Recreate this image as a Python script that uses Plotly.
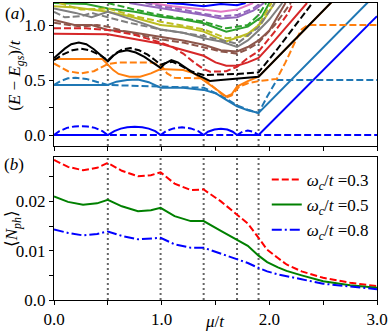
import plotly.graph_objects as go

# ---------------- data ----------------
transitions = [0.5, 0.99, 1.39, 1.70, 1.90]

# panel (a): excitation spectrum (mu/t, (E-Egs)/t); solid & dashed families
blue_s_mu = [0, 0.5, 0.56, 0.62, 0.68, 0.75, 0.82, 0.88, 0.94, 0.99, 1.39, 1.43, 1.49, 1.55, 1.61, 1.66, 1.70, 1.90, 3.0]
blue_s_E = [0, 0, 0.035, 0.058, 0.071, 0.075, 0.071, 0.058, 0.035, 0, 0, 0.03, 0.05, 0.057, 0.05, 0.03, 0, 0, 1.08]
blue_d_mu = [0, 0.05, 0.12, 0.19, 0.25, 0.31, 0.38, 0.45, 0.5, 0.99, 1.04, 1.11, 1.19, 1.27, 1.34, 1.39, 1.70, 1.75, 1.80, 1.85, 1.90, 3.0]
blue_d_E = [0, 0.035, 0.065, 0.078, 0.08, 0.078, 0.065, 0.035, 0, 0, 0.035, 0.06, 0.07, 0.06, 0.035, 0, 0, 0.03, 0.04, 0.03, 0, 0]

tblue_s_mu = [0, 0.3, 0.5, 0.58, 0.68, 0.78, 0.88, 0.99, 1.2, 1.39, 1.5, 1.6, 1.7, 1.8, 1.9, 3.0]
tblue_s_E = [0.455, 0.455, 0.455, 0.485, 0.50, 0.505, 0.48, 0.43, 0.43, 0.41, 0.38, 0.32, 0.26, 0.225, 0.20, 1.29]
tblue_d_mu = [0, 0.06, 0.13, 0.2, 0.3, 0.4, 0.5, 0.99, 1.39, 1.5, 1.6, 1.7, 1.8, 1.9, 1.98, 2.07, 3.0]
tblue_d_E = [0.455, 0.49, 0.515, 0.52, 0.51, 0.485, 0.455, 0.44, 0.43, 0.38, 0.33, 0.27, 0.23, 0.20, 0.35, 0.5, 0.5]

orange_s_mu = [0, 0.45, 0.5, 0.55, 0.6, 0.7, 0.8, 0.9, 0.99, 1.2, 1.3, 1.39, 1.5, 1.6, 1.65, 1.7, 1.8, 1.9, 2.6]
orange_s_E = [0.69, 0.69, 0.64, 0.59, 0.555, 0.53, 0.53, 0.56, 0.60, 0.59, 0.56, 0.50, 0.42, 0.35, 0.37, 0.44, 0.49, 0.53, 1.23]
orange_d_mu = [0, 0.06, 0.13, 0.25, 0.37, 0.44, 0.5, 0.6, 0.9, 0.99, 1.05, 1.12, 1.39, 1.5, 1.6, 1.65, 1.72, 1.8, 1.9, 2.07, 2.15, 2.25, 2.3, 2.36, 3.0]
orange_d_E = [0.65, 0.615, 0.58, 0.56, 0.58, 0.615, 0.645, 0.66, 0.66, 0.64, 0.56, 0.52, 0.515, 0.42, 0.34, 0.36, 0.44, 0.47, 0.49, 0.51, 0.66, 0.87, 0.96, 1.0, 1.0]

black_s_mu = [0, 0.05, 0.1, 0.16, 0.23, 0.3, 0.37, 0.44, 0.5, 0.55, 0.6, 0.68, 0.76, 0.84, 0.92, 0.99, 1.03, 1.09, 1.15, 1.22, 1.3, 1.39, 1.45, 1.55, 1.7, 1.9, 2.6]
black_s_E = [0.70, 0.745, 0.785, 0.825, 0.84, 0.825, 0.78, 0.72, 0.67, 0.72, 0.755, 0.77, 0.75, 0.71, 0.66, 0.61, 0.65, 0.68, 0.66, 0.61, 0.56, 0.52, 0.49, 0.50, 0.51, 0.53, 1.23]
black_d_mu = [0, 0.08, 0.17, 0.25, 0.33, 0.42, 0.5, 0.57, 0.64, 0.71, 0.79, 0.87, 0.94, 0.99, 1.04, 1.1, 1.17, 1.27, 1.39, 1.55, 1.7, 1.9, 2.05, 2.4]
black_d_E = [0.68, 0.73, 0.77, 0.785, 0.77, 0.73, 0.68, 0.74, 0.78, 0.79, 0.77, 0.73, 0.68, 0.64, 0.655, 0.665, 0.635, 0.58, 0.545, 0.55, 0.555, 0.57, 0.75, 1.2]

red_s_mu = [0, 0.5, 0.99, 1.2, 1.39, 1.5, 1.6, 1.7, 1.8, 1.9, 2.05, 2.35]
red_s_E = [0.92, 0.915, 0.83, 0.77, 0.72, 0.66, 0.63, 0.63, 0.66, 0.70, 0.86, 1.2]
red_d_mu = [0, 0.3, 0.5, 0.75, 0.99, 1.1, 1.2, 1.3, 1.39, 1.45, 1.6, 1.7, 1.8, 1.9, 2.05, 2.17, 2.22]
red_d_E = [0.97, 0.97, 0.955, 0.91, 0.84, 0.80, 0.74, 0.66, 0.60, 0.575, 0.58, 0.62, 0.70, 0.76, 0.94, 1.1, 1.2]

brown_s_mu = [0, 0.19, 0.35, 0.5, 0.68, 0.99, 1.2, 1.39, 1.55, 1.7, 1.8, 1.9, 2.0, 2.15]
brown_s_E = [1.045, 1.0, 1.0, 0.955, 0.94, 0.89, 0.86, 0.82, 0.77, 0.76, 0.80, 0.86, 0.95, 1.2]
brown_d_mu = [0, 0.15, 0.25, 0.4, 0.5, 0.7, 0.99, 1.2, 1.39, 1.55, 1.7, 1.8, 1.9, 2.05, 2.2]
brown_d_E = [1.02, 1.0, 0.985, 1.0, 0.985, 0.93, 0.87, 0.84, 0.80, 0.76, 0.74, 0.78, 0.84, 1.0, 1.2]

gray_s_mu = [0, 0.2, 0.35, 0.5, 0.6, 0.99, 1.2, 1.39, 1.55, 1.7, 1.8, 1.9, 2.0, 2.12]
gray_s_E = [1.15, 1.11, 1.07, 1.12, 1.09, 0.96, 0.93, 0.88, 0.85, 0.80, 0.86, 0.95, 1.05, 1.2]
gray_d_mu = [0, 0.1, 0.25, 0.35, 0.5, 0.7, 0.99, 1.39, 1.7, 1.9, 2.05]
gray_d_E = [1.12, 1.07, 1.08, 1.11, 1.07, 1.02, 0.96, 0.90, 0.83, 0.98, 1.2]

olive_s_mu = [0, 0.2, 0.5, 0.7, 0.99, 1.2, 1.39, 1.6, 1.8, 1.93, 2.05]
olive_s_E = [1.17, 1.16, 1.12, 1.08, 1.0, 0.98, 0.94, 0.85, 0.92, 1.02, 1.2]
olive_d_mu = [0.05, 0.25, 0.5, 0.75, 0.99, 1.2, 1.39, 1.6, 1.8, 1.9, 2.02]
olive_d_E = [1.2, 1.14, 1.15, 1.08, 1.03, 0.99, 0.96, 0.88, 0.90, 1.0, 1.2]

green_s_mu = [0, 0.3, 0.5, 0.75, 0.99, 1.2, 1.39, 1.6, 1.8, 1.93, 2.0]
green_s_E = [1.2, 1.19, 1.15, 1.12, 1.075, 1.05, 1.016, 0.94, 0.985, 1.075, 1.2]
green_d_mu = [0.5, 0.75, 0.99, 1.2, 1.39, 1.6, 1.8, 1.9, 1.97]
green_d_E = [1.2, 1.14, 1.09, 1.06, 1.03, 0.97, 1.0, 1.09, 1.2]

purple_s_mu = [0.7, 0.99, 1.2, 1.39, 1.55, 1.7, 1.85, 1.95]
purple_s_E = [1.2, 1.15, 1.12, 1.09, 1.06, 1.07, 1.13, 1.2]
purple_d_mu = [0.85, 0.99, 1.2, 1.39, 1.55, 1.7, 1.85, 1.92]
purple_d_E = [1.2, 1.17, 1.14, 1.10, 1.08, 1.09, 1.15, 1.2]

pink_s_mu = [0.9, 1.1, 1.39, 1.55, 1.7, 1.85]
pink_s_E = [1.2, 1.17, 1.14, 1.12, 1.14, 1.2]

top_blue_mu = [1.05, 1.2, 1.39, 1.55, 1.7, 1.78]
top_blue_E = [1.2, 1.19, 1.17, 1.19, 1.18, 1.2]

# panel (b): <N_ph> vs mu/t
nph_mu = [0, 0.13, 0.27, 0.4, 0.5, 0.63, 0.78, 0.9, 0.99, 1.12, 1.27, 1.39, 1.55, 1.70, 1.80, 1.90, 1.98, 2.08, 2.16, 2.3, 2.5, 2.75, 3.0]
nph_w03 = [0.0284, 0.0270, 0.0263, 0.0268, 0.0278, 0.0262, 0.0251, 0.0253, 0.0259, 0.0236, 0.0223, 0.0224, 0.0200, 0.0173, 0.0155, 0.0126, 0.0102, 0.0085, 0.0072, 0.0058, 0.0045, 0.0035, 0.0028]
nph_w05 = [0.0210, 0.0199, 0.0193, 0.0196, 0.0203, 0.0190, 0.0180, 0.0182, 0.0187, 0.0170, 0.0160, 0.0160, 0.0140, 0.0123, 0.0110, 0.0090, 0.0077, 0.0066, 0.0059, 0.0050, 0.0038, 0.0030, 0.0025]
nph_w08 = [0.0143, 0.0136, 0.0131, 0.0134, 0.0139, 0.0130, 0.0123, 0.0124, 0.0126, 0.0113, 0.0106, 0.0106, 0.0094, 0.0082, 0.0075, 0.0065, 0.0058, 0.0052, 0.0048, 0.0042, 0.0033, 0.0027, 0.0022]
legend_labels = ["<i>ω</i><sub><i>c</i></sub>/<i>t</i> =0.3",
                 "<i>ω</i><sub><i>c</i></sub>/<i>t</i> =0.5",
                 "<i>ω</i><sub><i>c</i></sub>/<i>t</i> =0.8"]

# ---------------- figure ----------------
FONT = "Liberation Serif"
FS = 17
DASH = "7px,3px"
fig = go.Figure()

spectrum = [
    (blue_s_mu, blue_s_E, "#0000ff", "solid"), (blue_d_mu, blue_d_E, "#0000ff", DASH),
    (top_blue_mu, top_blue_E, "#0000ff", "solid"),
    (pink_s_mu, pink_s_E, "#e377c2", "solid"),
    (purple_d_mu, purple_d_E, "#9467bd", DASH), (purple_s_mu, purple_s_E, "#9467bd", "solid"),
    (green_d_mu, green_d_E, "#2ca02c", DASH), (green_s_mu, green_s_E, "#2ca02c", "solid"),
    (olive_d_mu, olive_d_E, "#bcbd22", DASH), (olive_s_mu, olive_s_E, "#bcbd22", "solid"),
    (gray_d_mu, gray_d_E, "#7f7f7f", DASH), (gray_s_mu, gray_s_E, "#7f7f7f", "solid"),
    (brown_d_mu, brown_d_E, "#8c564b", DASH), (brown_s_mu, brown_s_E, "#8c564b", "solid"),
    (red_d_mu, red_d_E, "#d62728", DASH), (red_s_mu, red_s_E, "#d62728", "solid"),
    (tblue_s_mu, tblue_s_E, "#1f77b4", "solid"), (tblue_d_mu, tblue_d_E, "#1f77b4", DASH),
    (orange_s_mu, orange_s_E, "#ff7f0e", "solid"), (orange_d_mu, orange_d_E, "#ff7f0e", DASH),
    (black_d_mu, black_d_E, "#000000", DASH), (black_s_mu, black_s_E, "#000000", "solid"),
]
for mu, E, col, dash in spectrum:
    fig.add_trace(go.Scatter(x=mu, y=E, mode="lines", showlegend=False,
                             line=dict(color=col, width=2, dash=dash),
                             xaxis="x", yaxis="y", hoverinfo="skip"))

for ys, col, dash, lab in [(nph_w03, "#ff0000", DASH, legend_labels[0]),
                           (nph_w05, "#008000", "solid", legend_labels[1]),
                           (nph_w08, "#0000ff", "10px,3px,2px,3px", legend_labels[2])]:
    fig.add_trace(go.Scatter(x=nph_mu, y=ys, mode="lines", name=lab,
                             line=dict(color=col, width=2, dash=dash),
                             xaxis="x2", yaxis="y2"))

shapes = []
for m in transitions:
    for xr, yr in [("x", "y domain"), ("x2", "y2 domain")]:
        shapes.append(dict(type="line", xref=xr, yref=yr, x0=m, x1=m, y0=0, y1=1,
                           line=dict(color="#666666", width=2, dash="2px,3px"), layer="below"))

axis_common = dict(showline=True, linecolor="black", linewidth=1, mirror=True, automargin=False,
                   ticks="outside", ticklen=4, tickcolor="black", showgrid=False,
                   zeroline=False, tickfont=dict(family=FONT, size=FS, color="black"))
minor_common = dict(ticks="outside", ticklen=4, tickcolor="black")

def ann(text, x, y, angle=0):
    return dict(text=text, xref="paper", yref="paper", x=x, y=y, xanchor="center",
                yanchor="middle", showarrow=False, textangle=angle,
                font=dict(family=FONT, size=FS, color="black"))

fig.update_layout(
    width=389, height=333,
    margin=dict(l=54, r=12, t=3, b=33),
    paper_bgcolor="white", plot_bgcolor="white",
    font=dict(family=FONT, size=FS, color="black"),
    shapes=shapes,
    xaxis=dict(domain=[0, 1], range=[0, 3], anchor="y", dtick=1, showticklabels=False,
               minor=dict(dtick=0.5, **minor_common), **axis_common),
    yaxis=dict(domain=[0.5185, 1], range=[-0.1, 1.2], anchor="x", tickvals=[0, 0.5, 1.0],
               ticktext=["0.0", "0.5", "1.0"],
               minor=dict(tickvals=[0.25, 0.75], **minor_common), **axis_common),
    xaxis2=dict(domain=[0, 1], range=[0, 3], anchor="y2", tickvals=[0, 1, 2, 3],
                ticktext=["0.0", "1.0", "2.0", "3.0"],
                minor=dict(tickvals=[0.5, 1.5, 2.5], **minor_common), **axis_common),
    yaxis2=dict(domain=[0, 0.4815], range=[0, 0.029], anchor="x2", tickvals=[0, 0.01, 0.02],
                ticktext=["0.0", "0.01", "0.02"],
                minor=dict(tickvals=[0.005, 0.015, 0.025], **minor_common), **axis_common),
    legend=dict(x=0.99, xanchor="right", y=0.465, yanchor="top", bgcolor="rgba(255,255,255,0)",
                font=dict(family=FONT, size=FS), itemwidth=30),
    annotations=[
        ann("(<i>a</i>)", -0.121, 0.965),
        ann("(<i>b</i>)", -0.124, 0.455),
        ann("(<i>E</i> − <i>E</i><sub><i>gs</i></sub>)/<i>t</i>", -0.118, 0.758, -90),
        ann("⟨<i>N</i><sub><i>ph</i></sub>⟩", -0.126, 0.239, -90),
        ann("<i>μ</i>/<i>t</i>", 0.498, -0.074),
    ],
)

fig.write_html("out.html", config={"displayModeBar": False},
               post_script="document.body.style.margin='0';document.body.style.overflow='hidden';")
